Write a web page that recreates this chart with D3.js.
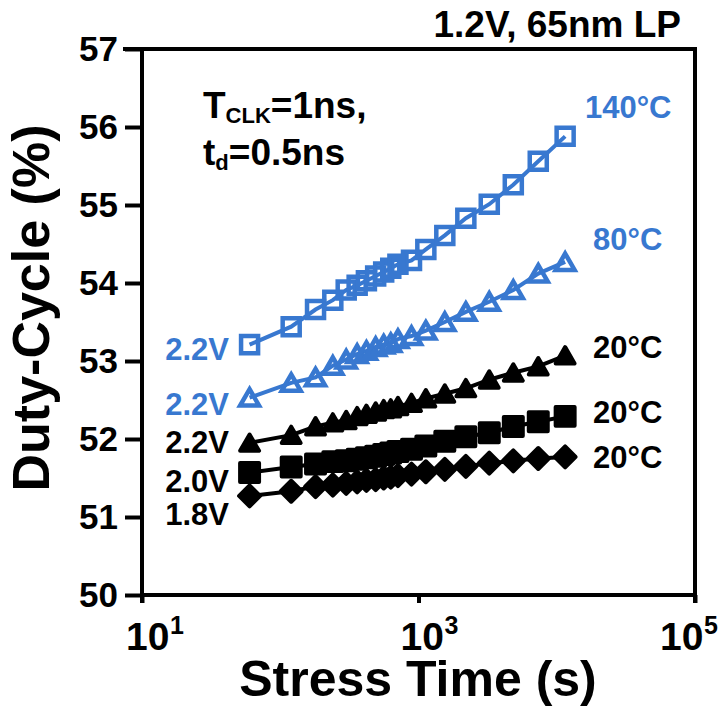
<!DOCTYPE html>
<html>
<head>
<meta charset="utf-8">
<script src="https://cdn.jsdelivr.net/npm/d3@7"></script>
<style>
  body { margin: 0; background: #fff; }
  svg text { font-family: "Liberation Sans", Arial, sans-serif; font-weight: bold; }
</style>
</head>
<body>
<div id="chart"></div>
<script>
// stress times (s), shared by every curve
const times = [60, 120, 180, 240, 300, 360, 420, 490, 560, 630, 710, 890, 1130, 1550, 2200, 3250, 4850, 7350, 11500];

// duty-cycle (%)
const sq140 = [53.21, 53.44, 53.66, 53.78, 53.91, 53.97, 54.03, 54.09, 54.14, 54.19, 54.24, 54.29, 54.43, 54.61, 54.83, 55.01, 55.26, 55.56, 55.88];
const tri80 = [52.53, 52.72, 52.79, 52.94, 53.02, 53.09, 53.13, 53.18, 53.21, 53.23, 53.28, 53.32, 53.39, 53.50, 53.63, 53.76, 53.91, 54.12, 54.27];
const tri20 = [51.95, 52.05, 52.16, 52.21, 52.24, 52.29, 52.32, 52.35, 52.38, 52.39, 52.42, 52.46, 52.52, 52.58, 52.65, 52.76, 52.85, 52.93, 53.07];
const sq20 = [51.57, 51.64, 51.68, 51.71, 51.72, 51.74, 51.76, 51.78, 51.80, 51.82, 51.84, 51.87, 51.91, 51.97, 52.03, 52.08, 52.16, 52.22, 52.29];
const dia20 = [51.27, 51.33, 51.39, 51.41, 51.43, 51.45, 51.47, 51.48, 51.50, 51.51, 51.53, 51.55, 51.58, 51.61, 51.65, 51.69, 51.72, 51.75, 51.77];

const yTicks = [50, 51, 52, 53, 54, 55, 56, 57];
const xTicks = [10, 1000, 100000];
const xTickExp = ['1', '3', '5'];

const BLUE = '#3878d0';

const series = [
  { values: sq140, color: BLUE, shape: 'square', hollow: true, left: '2.2V', right: '140°C' },
  { values: tri80, color: BLUE, shape: 'triangle', hollow: true, left: '2.2V', right: '80°C' },
  { values: tri20, color: '#000', shape: 'triangle', hollow: false, left: '2.2V', right: '20°C' },
  { values: sq20, color: '#000', shape: 'square', hollow: false, left: '2.0V', right: '20°C' },
  { values: dia20, color: '#000', shape: 'diamond', hollow: false, left: '1.8V', right: '20°C' }
];

const width = 718, height = 708;
const svg = d3.select('#chart').append('svg')
  .attr('width', width)
  .attr('height', height);

const x = d3.scaleLog().domain([10, 100000]).range([142, 695]);
const y = d3.scaleLinear().domain([50, 57]).range([595, 49]);

// lines first, so the hollow markers show them through
const line = d3.line()
  .x((d, i) => x(times[i]))
  .y(d => y(d));

series.forEach(s => {
  svg.append('path')
    .datum(s.values)
    .attr('d', line)
    .attr('fill', 'none')
    .attr('stroke', s.color)
    .attr('stroke-width', 4);
});

const symbols = {
  square: d3.symbol().type(d3.symbolSquare),
  triangle: d3.symbol().type(d3.symbolTriangle),
  diamond: d3.symbol().type(d3.symbolSquare)
};

series.forEach(s => {
  let size = 300, rot = 0, dy = 0;
  if (s.shape === 'square') size = s.hollow ? 290 : 360;
  if (s.shape === 'triangle') { size = 155; dy = 2.5; }
  if (s.shape === 'diamond') { size = 220; rot = 45; }
  svg.append('g').selectAll('path')
    .data(s.values)
    .enter()
    .append('path')
    .attr('d', symbols[s.shape].size(size)())
    .attr('transform', (d, i) => `translate(${x(times[i])},${y(d) + dy}) rotate(${rot})`)
    .attr('fill', s.hollow ? 'none' : s.color)
    .attr('stroke', s.color)
    .attr('stroke-width', s.hollow ? 4.5 : 4)
    .attr('stroke-linejoin', s.hollow ? 'miter' : 'round');
});

// axes
const yAxis = d3.axisLeft(y).tickValues(yTicks).tickSize(17).tickSizeOuter(0).tickFormat(d3.format('d'));
const gy = svg.append('g').attr('transform', `translate(${x.range()[0]},0)`).call(yAxis);
gy.select('.domain').attr('stroke-width', 4).attr('d', `M0,${y(57) - 2}V${y(50) + 8}`);
gy.selectAll('.tick line').attr('stroke-width', 4);
gy.selectAll('.tick text')
  .attr('x', -24)
  .attr('font-size', 35)
  .attr('fill', '#000')
  .style('font-family', '"Liberation Sans", Arial, sans-serif');

const xAxis = d3.axisBottom(x).tickValues(xTicks).tickSize(8).tickSizeOuter(0).tickFormat('');
const gx = svg.append('g').attr('transform', `translate(0,${y.range()[0]})`).call(xAxis);
gx.select('.domain').attr('stroke-width', 4).attr('d', `M${x(10) - 2},0H${x(100000) + 2}`);
gx.selectAll('.tick line').attr('stroke-width', 4);

// frame: top and right
svg.append('path')
  .attr('d', `M${x(10) - 19},${y(57)}H${x(100000)}V${y(50) + 8}`)
  .attr('fill', 'none')
  .attr('stroke', '#000')
  .attr('stroke-width', 4);

// x tick labels with exponents (base and exponent as separate texts)
const xLabelShift = [-16, -18, -35];
xTicks.forEach((t, i) => {
  const x0 = x(t) + xLabelShift[i];
  svg.append('text')
    .attr('x', x0)
    .attr('y', 650)
    .attr('font-size', 39)
    .text('10');
  svg.append('text')
    .attr('x', x0 + 44)
    .attr('y', 634)
    .attr('font-size', 25)
    .text(xTickExp[i]);
});

// axis titles
svg.append('text')
  .attr('x', 418)
  .attr('y', 696)
  .attr('text-anchor', 'middle')
  .attr('font-size', 50)
  .text('Stress Time (s)');

svg.append('text')
  .attr('transform', 'translate(49,308) rotate(-90)')
  .attr('text-anchor', 'middle')
  .attr('font-size', 52)
  .text('Duty-Cycle (%)');

// header
svg.append('text')
  .attr('x', 681)
  .attr('y', 37)
  .attr('text-anchor', 'end')
  .attr('font-size', 37)
  .text('1.2V, 65nm LP');

// condition note
const t1 = svg.append('text').attr('x', 203).attr('y', 118).attr('font-size', 37);
t1.append('tspan').text('T');
t1.append('tspan').attr('dy', 5).attr('font-size', 22).text('CLK');
t1.append('tspan').attr('dy', -5).text('=1ns,');

const t2 = svg.append('text').attr('x', 203).attr('y', 165).attr('font-size', 37);
t2.append('tspan').text('t');
t2.append('tspan').attr('dy', 5).attr('font-size', 22).text('d');
t2.append('tspan').attr('dy', -5).text('=0.5ns');

// curve labels
const leftY = [360, 415, 453, 492, 525];
const rightPos = [[585, 118], [593, 250], [593, 358], [593, 423], [593, 468]];
series.forEach((s, i) => {
  svg.append('text')
    .attr('x', 229)
    .attr('y', leftY[i])
    .attr('text-anchor', 'end')
    .attr('font-size', 31)
    .attr('fill', s.color)
    .text(s.left);
  svg.append('text')
    .attr('x', rightPos[i][0])
    .attr('y', rightPos[i][1])
    .attr('font-size', 31)
    .attr('fill', s.color)
    .text(s.right);
});
</script>
</body>
</html>
